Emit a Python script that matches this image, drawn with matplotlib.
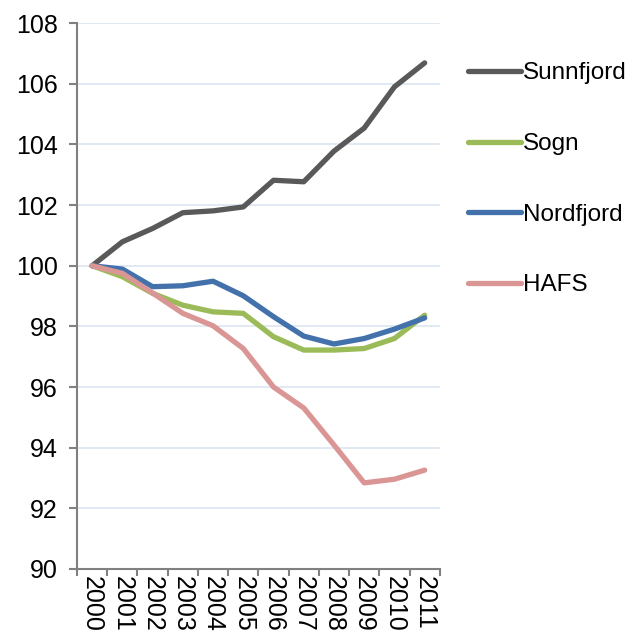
import numpy as np
import matplotlib.pyplot as plt

plt.rcParams['font.family'] = ['Liberation Sans', 'DejaVu Sans']

years = ['2000', '2001', '2002', '2003', '2004', '2005',
         '2006', '2007', '2008', '2009', '2010', '2011']

sunnfjord = [100, 100.79, 101.23, 101.75, 101.81, 101.94, 102.82, 102.77, 103.78, 104.54, 105.9, 106.69]
sogn = [100, 99.64, 99.09, 98.70, 98.48, 98.43, 97.66, 97.22, 97.22, 97.27, 97.6, 98.37]
nordfjord = [100, 99.89, 99.31, 99.34, 99.49, 99.01, 98.32, 97.68, 97.42, 97.6, 97.91, 98.28]
hafs = [100, 99.75, 99.10, 98.43, 98.02, 97.27, 96.0, 95.31, 94.09, 92.84, 92.96, 93.26]

series = [('Sunnfjord', sunnfjord, '#595959'),
          ('Sogn', sogn, '#9bbb59'),
          ('Nordfjord', nordfjord, '#4271ab'),
          ('HAFS', hafs, '#d99694')]

fig = plt.figure(figsize=(6.42, 6.44), dpi=100)
ax = fig.add_axes([0.12, 0.1165, 0.565, 0.8475])

x = np.arange(len(years))
for name, vals, col in series:
    ax.plot(x, vals, color=col, lw=3.8, label=name, solid_capstyle='round')

ax.set_ylim(90, 108)
ax.set_yticks(range(90, 109, 2))
ax.set_xlim(-0.5, len(years) - 0.5)
ax.set_xticks(np.arange(-0.5, len(years)), minor=False)
ax.set_xticklabels([])
ax.set_xticks(x, minor=True)
ax.set_xticklabels(years, minor=True, rotation=270, fontsize=18)
ax.tick_params(axis='x', which='minor', length=0, pad=5)
ax.tick_params(axis='x', which='major', length=5, color='#808080', width=1.5)
ax.tick_params(axis='y', length=6, color='#808080', width=1.5, labelsize=18, pad=8)

ax.grid(axis='y', color='#dce6f2', lw=1.2)
ax.set_axisbelow(True)
for s in ['top', 'right']:
    ax.spines[s].set_visible(False)
for s in ['left', 'bottom']:
    ax.spines[s].set_color('#808080')
    ax.spines[s].set_linewidth(1.5)

ax.legend(loc='upper left', bbox_to_anchor=(1.05, 0.946), frameon=False,
          fontsize=17.5, handlelength=2.2, handletextpad=0.08,
          labelspacing=2.0, borderaxespad=0)

fig.savefig('out.png', dpi=100)
